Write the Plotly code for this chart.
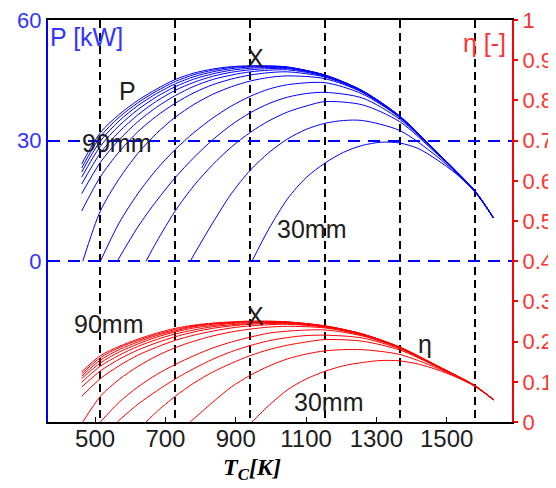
import plotly.graph_objects as go

# ---------------- data ----------------
diameters = ["90mm", "85mm", "80mm", "75mm", "70mm", "65mm", "60mm",
             "55mm", "50mm", "45mm", "40mm", "35mm", "30mm"]

T_big = [450, 500, 550, 600, 650, 700, 750, 800, 850, 900, 950, 1000, 1100, 1200, 1300, 1400, 1500, 1550]

T_90 = T_big
P_90 = [24.2, 32.0, 36.5, 40.0, 42.8, 45.2, 46.8, 47.8, 48.4, 48.6, 48.6, 48.3, 46.3, 42.4, 36.1, 27.1, 17.6, 10.9]
E_90 = [0.125, 0.165, 0.188, 0.206, 0.221, 0.233, 0.241, 0.246, 0.249, 0.251, 0.251, 0.249, 0.239, 0.219, 0.186, 0.140, 0.091, 0.056]

T_85 = T_big
P_85 = [23.2, 31.0, 35.8, 39.4, 42.3, 44.7, 46.4, 47.5, 48.2, 48.5, 48.5, 48.3, 46.3, 42.4, 36.1, 27.1, 17.6, 10.9]
E_85 = [0.120, 0.160, 0.185, 0.203, 0.218, 0.230, 0.239, 0.245, 0.248, 0.250, 0.250, 0.249, 0.239, 0.219, 0.186, 0.140, 0.091, 0.056]

T_80 = T_big
P_80 = [22.2, 29.9, 34.9, 38.7, 41.7, 44.1, 45.9, 47.1, 47.9, 48.3, 48.4, 48.2, 46.3, 42.4, 36.0, 27.0, 17.6, 10.9]
E_80 = [0.114, 0.154, 0.180, 0.199, 0.215, 0.227, 0.237, 0.243, 0.247, 0.249, 0.249, 0.248, 0.239, 0.219, 0.186, 0.139, 0.091, 0.056]

T_75 = T_big
P_75 = [20.9, 28.6, 33.7, 37.7, 40.9, 43.4, 45.3, 46.6, 47.5, 48.0, 48.2, 48.1, 46.2, 42.3, 36.0, 27.0, 17.5, 10.8]
E_75 = [0.108, 0.147, 0.174, 0.194, 0.211, 0.224, 0.234, 0.240, 0.245, 0.247, 0.248, 0.248, 0.238, 0.218, 0.186, 0.139, 0.090, 0.056]

T_70 = T_big
P_70 = [19.2, 26.9, 32.2, 36.4, 39.8, 42.5, 44.5, 46.0, 47.0, 47.6, 47.9, 47.9, 46.1, 42.3, 36.0, 27.0, 17.5, 10.8]
E_70 = [0.099, 0.139, 0.166, 0.188, 0.205, 0.219, 0.229, 0.237, 0.242, 0.245, 0.247, 0.247, 0.238, 0.218, 0.186, 0.139, 0.090, 0.056]

T_65 = T_big
P_65 = [16.8, 24.6, 30.2, 34.7, 38.3, 41.2, 43.5, 45.2, 46.3, 47.1, 47.5, 47.6, 46.0, 42.2, 35.9, 27.0, 17.5, 10.8]
E_65 = [0.087, 0.127, 0.156, 0.179, 0.197, 0.212, 0.224, 0.233, 0.239, 0.243, 0.245, 0.245, 0.237, 0.218, 0.185, 0.139, 0.090, 0.056]

T_60 = T_big
P_60 = [12.5, 21.0, 27.2, 32.2, 36.1, 39.3, 41.9, 43.9, 45.3, 46.3, 46.9, 47.1, 45.8, 42.1, 35.9, 26.9, 17.5, 10.8]
E_60 = [0.064, 0.108, 0.140, 0.166, 0.186, 0.203, 0.216, 0.226, 0.234, 0.239, 0.242, 0.243, 0.236, 0.217, 0.185, 0.139, 0.090, 0.056]

T_55 = [453, 500, 550, 600, 650, 700, 750, 800, 850, 900, 950, 1000, 1100, 1200, 1300, 1400, 1500, 1550]
P_55 = [0.0, 12.5, 20.5, 26.8, 31.8, 35.8, 39.0, 41.5, 43.4, 44.8, 45.7, 46.1, 45.4, 42.0, 35.8, 26.9, 17.5, 10.8]
E_55 = [0.0, 0.064, 0.106, 0.138, 0.164, 0.185, 0.201, 0.214, 0.224, 0.231, 0.236, 0.238, 0.234, 0.216, 0.185, 0.139, 0.090, 0.056]

T_50 = [500, 550, 600, 650, 700, 750, 800, 850, 900, 950, 1000, 1100, 1200, 1300, 1400, 1500, 1550]
P_50 = [0.0, 9.5, 16.8, 22.8, 27.8, 32.0, 35.6, 38.6, 41.0, 42.8, 43.9, 44.4, 41.6, 35.7, 26.9, 17.5, 10.8]
E_50 = [0.0, 0.049, 0.087, 0.118, 0.143, 0.165, 0.184, 0.199, 0.211, 0.221, 0.226, 0.229, 0.214, 0.184, 0.139, 0.090, 0.056]

T_45 = [545, 600, 650, 700, 750, 800, 850, 900, 950, 1000, 1050, 1100, 1200, 1300, 1400, 1500, 1550]
P_45 = [0.0, 8.5, 15.0, 20.8, 25.8, 30.2, 33.9, 36.9, 39.2, 40.8, 41.7, 42.0, 40.6, 35.3, 26.8, 17.5, 10.8]
E_45 = [0.0, 0.044, 0.077, 0.107, 0.133, 0.156, 0.175, 0.190, 0.202, 0.210, 0.215, 0.216, 0.209, 0.182, 0.138, 0.090, 0.056]

T_40 = [622, 650, 700, 750, 800, 850, 900, 950, 1000, 1050, 1100, 1200, 1300, 1400, 1500, 1550]
P_40 = [0.0, 4.8, 12.5, 18.8, 24.0, 28.4, 32.0, 34.9, 37.1, 38.6, 39.7, 38.9, 34.7, 26.6, 17.5, 10.8]
E_40 = [0.0, 0.025, 0.064, 0.097, 0.124, 0.146, 0.165, 0.180, 0.191, 0.199, 0.205, 0.201, 0.179, 0.137, 0.090, 0.056]

T_35 = [740, 800, 850, 900, 950, 1000, 1050, 1100, 1150, 1200, 1300, 1400, 1500, 1550]
P_35 = [0.0, 9.5, 16.8, 22.6, 27.0, 30.4, 32.8, 34.3, 35.0, 35.0, 32.5, 26.0, 17.4, 10.8]
E_35 = [0.0, 0.049, 0.087, 0.116, 0.139, 0.157, 0.169, 0.177, 0.180, 0.180, 0.168, 0.134, 0.090, 0.056]

T_30 = [905, 950, 1000, 1050, 1100, 1150, 1200, 1250, 1300, 1350, 1400, 1450, 1500, 1550]
P_30 = [0.0, 8.0, 15.5, 20.8, 24.4, 27.1, 28.8, 29.6, 29.4, 28.0, 25.2, 21.8, 17.3, 10.8]
E_30 = [0.0, 0.041, 0.080, 0.107, 0.126, 0.140, 0.148, 0.153, 0.152, 0.144, 0.130, 0.112, 0.089, 0.056]

T_series = [T_90, T_85, T_80, T_75, T_70, T_65, T_60, T_55, T_50, T_45, T_40, T_35, T_30]
P_series = [P_90, P_85, P_80, P_75, P_70, P_65, P_60, P_55, P_50, P_45, P_40, P_35, P_30]
E_series = [E_90, E_85, E_80, E_75, E_70, E_65, E_60, E_55, E_50, E_45, E_40, E_35, E_30]

x_grid_vals = [500, 700, 900, 1100, 1300, 1500]
x_tick_labels = ["500", "700", "900", "1100", "1300", "1500"]
p_ticks = [0, 30, 60]
eta_ticks = [0, 0.1, 0.2, 0.3, 0.4, 0.5, 0.6, 0.7, 0.8, 0.9, 1]
eta_labels = ["0", "0.1", "0.2", "0.3", "0.4", "0.5", "0.6", "0.7", "0.8", "0.9", "1"]

# ---------------- figure ----------------
BLUE = "#0000ff"
RED = "#ff0000"
TICKBLUE = "#3333ff"
TICKRED = "#ff3333"
FONT = "Liberation Sans, Arial, sans-serif"

fig = go.Figure()

for name, T, P in zip(diameters, T_series, P_series):
    fig.add_trace(go.Scatter(x=T, y=P, mode="lines", name="P " + name,
                             line=dict(color=BLUE, width=1, shape="spline", smoothing=0.8),
                             xaxis="x", yaxis="y", showlegend=False, hoverinfo="skip"))

for name, T, E in zip(diameters, T_series, E_series):
    fig.add_trace(go.Scatter(x=T, y=E, mode="lines", name="eta " + name,
                             line=dict(color=RED, width=1, shape="spline", smoothing=0.8),
                             xaxis="x", yaxis="y2", showlegend=False, hoverinfo="skip"))

# empty trace so that the labelled temperature axis is drawn
fig.add_trace(go.Scatter(x=[None], y=[None], xaxis="x2", yaxis="y", showlegend=False,
                         mode="lines", hoverinfo="skip"))

txt = dict(size=25, color="#202020", family=FONT)
annotations = [
    dict(text="P", x=572, y=42.3, xref="x", yref="y", showarrow=False, font=txt),
    dict(text="90mm", x=544, y=29.5, xref="x", yref="y", showarrow=False, font=txt),
    dict(text="X", x=915, y=50.5, xref="x", yref="y", showarrow=False, font=txt),
    dict(text="30mm", x=1065, y=8, xref="x", yref="y", showarrow=False, font=txt),
    dict(text="90mm", x=522, y=-15.5, xref="x", yref="y", showarrow=False, font=txt),
    dict(text="X", x=915, y=-13.75, xref="x", yref="y", showarrow=False, font=txt),
    dict(text="η", x=1367, y=-20.5, xref="x", yref="y", showarrow=False, font=txt),
    dict(text="30mm", x=1110, y=-35, xref="x", yref="y", showarrow=False, font=txt),
    dict(text="P [kW]", x=0.0, y=0.958, xref="paper", yref="paper", xanchor="left",
         yanchor="middle", showarrow=False, font=dict(size=25, color=TICKBLUE, family=FONT)),
    dict(text="η [-]", x=0.991, y=0.943, xref="paper", yref="paper", xanchor="right",
         yanchor="middle", showarrow=False, font=dict(size=25, color=TICKRED, family=FONT)),
    dict(text="<b><i>T<sub>C</sub>[K]</i></b>", x=0.44, y=-0.118, xref="paper", yref="paper",
         xanchor="center", yanchor="middle", showarrow=False,
         font=dict(size=24, color="black", family="Liberation Serif, Times New Roman, serif")),
]

# the page adds an 8px body margin; the figure is sized so the plot lands where the reference has it
fig.update_layout(
    width=548, height=480,
    margin=dict(l=40, r=44, t=12, b=66, autoexpand=False),
    paper_bgcolor="white", plot_bgcolor="white",
    showlegend=False,
    annotations=annotations,
    xaxis=dict(range=[360, 1600], tickvals=x_grid_vals, showticklabels=False, ticks="",
               showgrid=True, gridcolor="black", griddash="8px,5px", gridwidth=1.5,
               showline=True, linecolor="black", linewidth=2, mirror=True,
               zeroline=False, automargin=False),
    xaxis2=dict(range=[366, 1686], overlaying="x", anchor="y", side="bottom",
                tickvals=x_grid_vals, ticktext=x_tick_labels,
                ticks="inside", ticklen=5, tickcolor="black", tickwidth=1,
                tickfont=dict(size=24, color="#202020", family=FONT),
                showgrid=False, showline=False, zeroline=False, automargin=False,
                ticklabeloverflow="allow"),
    yaxis=dict(range=[-40, 60], tickvals=p_ticks, ticktext=["0", "30", "60"],
               tickfont=dict(size=22, color=TICKBLUE, family=FONT),
               ticks="", showgrid=True, gridcolor=BLUE, griddash="12px,8px", gridwidth=1.5,
               showline=True, linecolor=BLUE, linewidth=2, zeroline=False, automargin=False,
               ticklabeloverflow="allow"),
    yaxis2=dict(range=[0, 1], overlaying="y", side="right", anchor="x",
                tickvals=eta_ticks, ticktext=eta_labels,
                tickfont=dict(size=22, color=TICKRED, family=FONT),
                ticks="outside", ticklen=4, tickcolor=RED, tickwidth=2,
                showgrid=False, showline=True, linecolor=RED, linewidth=2, zeroline=False,
                automargin=False, ticklabeloverflow="allow"),
)

fig.write_html("out.html")
